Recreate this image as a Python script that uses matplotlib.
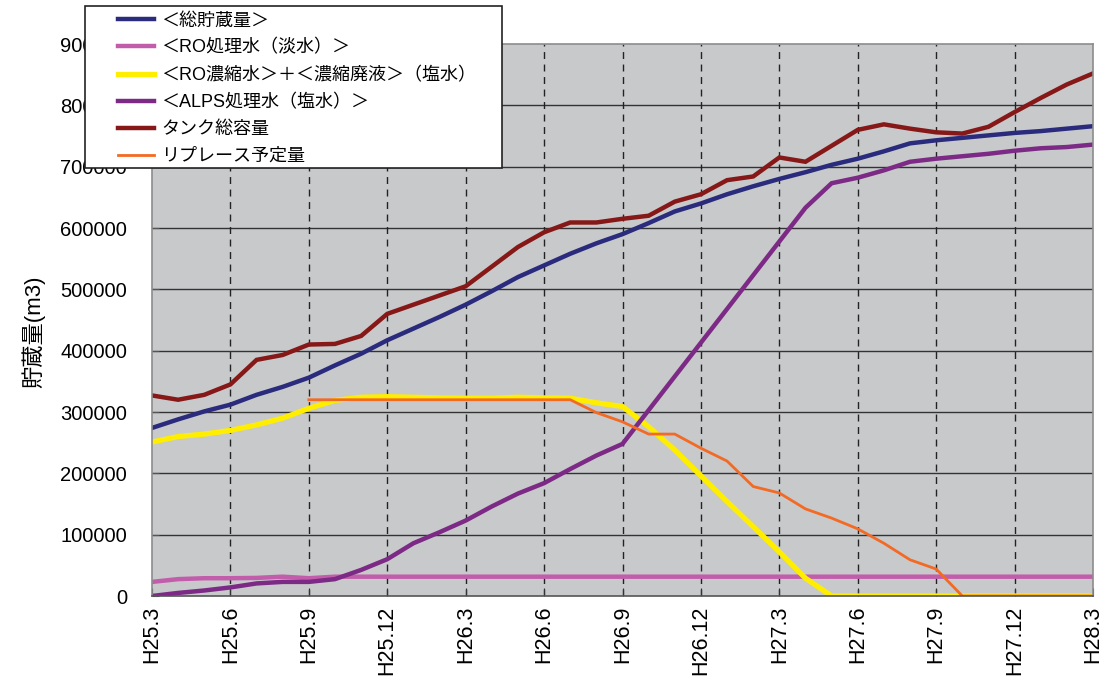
import matplotlib
matplotlib.use("Agg")
import matplotlib.pyplot as plt
from matplotlib.patches import Rectangle
import numpy as np

plt.rcParams['font.family'] = ['Liberation Sans', 'Noto Sans CJK JP', 'DejaVu Sans']

# 月次データ（H25.3 〜 H28.3）
months = np.arange(37)
tick_pos = np.arange(0, 37, 3)
tick_labels = ['H25.3', 'H25.6', 'H25.9', 'H25.12', 'H26.3', 'H26.6', 'H26.9',
               'H26.12', 'H27.3', 'H27.6', 'H27.9', 'H27.12', 'H28.3']

total_storage = [274000, 288000, 301000, 312000, 328000, 341000, 356000, 376000, 395000, 417000,
                 436000, 455000, 475000, 497000, 520000, 539000, 558000, 575000, 590000, 608000,
                 627000, 640000, 655000, 668000, 680000, 691000, 703000, 713000, 725000, 738000,
                 743000, 747000, 751000, 755000, 758000, 762000, 766000]
ro_treated = [23000, 27500, 29000, 29000, 29500, 31500, 29000, 31500, 31500, 31500,
              31500, 31500, 31500, 31500, 31500, 31500, 31500, 31500, 31500, 31500,
              31500, 31500, 31500, 31500, 31500, 31500, 31500, 31500, 31500, 31500,
              31500, 31500, 31500, 31500, 31500, 31500, 31500]
ro_concentrate = [251000, 260000, 264000, 270000, 279000, 290000, 306000, 319000, 324000, 325000,
                  324000, 323000, 322500, 322500, 324000, 323000, 322500, 315000, 309000, 276000,
                  238000, 196000, 154000, 113000, 72000, 29000, 0, 0, 0, 0,
                  0, 0, 0, 0, 0, 0, 0]
alps_treated = [0, 5000, 9000, 14000, 20500, 23000, 23000, 27500, 42500, 60000,
                86000, 104000, 123000, 146000, 167000, 184000, 207000, 229000, 248000, 303000,
                358000, 413000, 468000, 523000, 578000, 633000, 673000, 682000, 694000, 708000,
                713000, 717000, 721000, 726000, 730000, 732000, 736000]
tank_capacity = [327000, 320000, 328000, 345000, 385000, 393000, 410000, 411000, 424000, 460000,
                 475000, 490000, 505000, 537000, 569000, 593000, 609000, 609000, 615000, 620000,
                 643000, 655000, 678000, 684000, 715000, 708000, 734000, 760000, 769000, 762000,
                 756000, 754000, 765000, 789000, 812000, 834000, 852000]
replace_plan = [np.nan] * 6 + [320000] * 11 + [
                299000, 284000, 264000, 264000, 241000, 220000, 178500, 168000, 142000,
                127000, 109500, 86000, 59000, 44000, 0, 0, 0, 0, 0, 0]

labels = ['＜総貯蔵量＞', '＜RO処理水（淡水）＞', '＜RO濃縮水＞＋＜濃縮廃液＞（塩水）',
          '＜ALPS処理水（塩水）＞', 'タンク総容量', 'リプレース予定量']
colors = ['#2B2B7E', '#C15DAB', '#FFEE00', '#7C2A86', '#861818', '#F36A24']

fig = plt.figure(figsize=(11.03, 6.9), dpi=100)
ax = fig.add_axes([152 / 1103, 1 - 596 / 690, (1093 - 152) / 1103, (596 - 44) / 690])
ax.set_facecolor('#C8C9CB')

series = [total_storage, ro_treated, ro_concentrate, alps_treated, tank_capacity, replace_plan]
widths = [3.2, 3.2, 3.8, 3.2, 3.2, 2.0]
handles = []
for data, c, w, lab in zip(series, colors, widths, labels):
    h, = ax.plot(months, data, color=c, lw=w, label=lab, solid_joinstyle='miter')
    handles.append(h)

ax.set_xlim(0, 36)
ax.set_ylim(0, 900000)
ax.set_yticks(np.arange(0, 900001, 100000))
ax.set_yticklabels([str(v) for v in range(0, 900001, 100000)])
ax.set_xticks(tick_pos)
ax.set_xticklabels(tick_labels, rotation=90)

# 横線は実線、縦線は破線
for v in range(100000, 900000, 100000):
    ax.axhline(v, color='#333333', lw=1.0, zorder=0.5)
for p in tick_pos[1:-1]:
    ax.axvline(p, color='#222222', lw=1.0, ls=(0, (5, 4)), zorder=0.5)

ax.tick_params(axis='y', direction='in', length=5, pad=18, labelsize=14.5, color='#555555')
ax.tick_params(axis='x', direction='in', length=6, pad=7, labelsize=15.5, color='#333333')
for s in ax.spines.values():
    s.set_color('#8C8C8C')
    s.set_linewidth(1.2)
ax.spines['bottom'].set_color('#555555')

fig.text(33 / 1103, 1 - 332 / 690, '貯蔵量(m3)', rotation=90, ha='center', va='center',
         fontsize=16)

# 凡例の枠
frame = Rectangle((85 / 1103, 1 - 168 / 690), (502 - 85) / 1103, (168 - 6) / 690,
                  transform=fig.transFigure, facecolor='white', edgecolor='#222222',
                  lw=1.2, zorder=10)
fig.add_artist(frame)
leg = fig.legend(handles=handles, loc='upper left', bbox_to_anchor=(114 / 1103, 1 - 9 / 690),
                 frameon=False, fontsize=13, handlelength=2.0, handletextpad=0.4,
                 labelspacing=0.55, borderpad=0.2, borderaxespad=0)
leg.set_zorder(11)

fig.savefig('out.png', dpi=100)
